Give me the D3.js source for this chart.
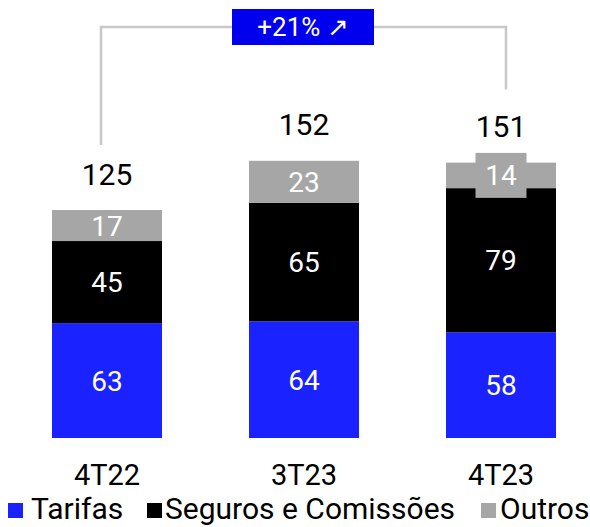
<!DOCTYPE html>
<html>
<head>
<meta charset="utf-8">
<script src="https://cdn.jsdelivr.net/npm/d3@7"></script>
<style>
  body { margin: 0; background: #fff; }
  text { font-family: Roboto, "Noto Sans", sans-serif; }
</style>
</head>
<body>
<svg id="chart" width="590" height="527"></svg>
<script>
const categories = ['4T22', '3T23', '4T23'];
const series = ['Tarifas', 'Seguros e Comissões', 'Outros'];
const tarifas = [63, 64, 58];
const seguros = [45, 65, 79];
const outros = [17, 23, 14];
const totals = [125, 152, 151];
const growthLabel = '+21% \u2197';

const colors = ['#1a22ff', '#000000', '#a6a6a6'];

const svg = d3.select('#chart');

// bars 110px wide, centers at ~107, 304, 501
const xs = d3.scaleBand().domain(categories).range([12.6, 595.4])
  .paddingInner(0.4416).paddingOuter(0.2);
const y = d3.scaleLinear().domain([0, 152]).range([438, 160.8]);

const rows = categories.map((c, i) => ({ cat: c, vals: [tarifas[i], seguros[i], outros[i]], total: totals[i] }));

const stacked = d3.stack().keys([0, 1, 2]).value((d, k) => d.vals[k])(rows);

const g = svg.append('g');

stacked.forEach((layer, k) => {
  g.selectAll(null)
    .data(layer)
    .join('rect')
    .attr('x', d => xs(d.data.cat))
    .attr('width', xs.bandwidth())
    .attr('y', d => y(d[1]))
    .attr('height', d => y(d[0]) - y(d[1]))
    .attr('fill', colors[k]);
});

// segment labels
stacked.forEach((layer, k) => {
  layer.forEach(d => {
    const cx = xs(d.data.cat) + xs.bandwidth() / 2;
    const cy = (y(d[0]) + y(d[1])) / 2;
    const h = y(d[0]) - y(d[1]);
    if (h < 28) {
      // thin segment: label gets its own box
      g.append('rect')
        .attr('x', cx - 25.5)
        .attr('y', cy - 22.5)
        .attr('width', 51)
        .attr('height', 45)
        .attr('fill', colors[k]);
    }
    g.append('text')
      .attr('x', cx)
      .attr('y', cy)
      .attr('dy', '0.36em')
      .attr('text-anchor', 'middle')
      .attr('font-size', 28)
      .attr('fill', '#fff')
      .text(d.data.vals[k]);
  });
});

// totals
g.selectAll('.total')
  .data(rows)
  .join('text')
  .attr('class', 'total')
  .attr('x', d => xs(d.cat) + xs.bandwidth() / 2)
  .attr('y', d => y(d.total) - 25.5)
  .attr('text-anchor', 'middle')
  .attr('font-size', 30)
  .attr('fill', '#000')
  .text(d => d.total);

// category labels
g.selectAll('.cat')
  .data(categories)
  .join('text')
  .attr('class', 'cat')
  .attr('x', d => xs(d) + xs.bandwidth() / 2)
  .attr('y', 485)
  .attr('text-anchor', 'middle')
  .attr('font-size', 29)
  .attr('fill', '#000')
  .text(d => d);

// growth bracket
const x1 = xs(categories[0]) + xs.bandwidth() / 2 - 6;
const x3 = xs(categories[2]) + xs.bandwidth() / 2 + 5;
const topY = 27;
g.append('path')
  .attr('d', `M${x1},${y(totals[0]) - 65}V${topY}H${x3}V${y(totals[2]) - 73}`)
  .attr('fill', 'none')
  .attr('stroke', '#c8c8c8')
  .attr('stroke-width', 2.5);

g.append('rect')
  .attr('x', 232)
  .attr('y', 9)
  .attr('width', 142)
  .attr('height', 36)
  .attr('fill', '#0000ee');

g.append('text')
  .attr('x', 303)
  .attr('y', 27)
  .attr('dy', '0.36em')
  .attr('text-anchor', 'middle')
  .attr('font-size', 26)
  .attr('fill', '#fff')
  .text(growthLabel);

// legend
const legendX = [8, 147, 481];
const legendText = [33, 167, 502];
const legend = g.selectAll('.leg')
  .data(series)
  .join('g')
  .attr('class', 'leg');

legend.append('rect')
  .attr('x', (d, i) => legendX[i])
  .attr('y', 503)
  .attr('width', 15)
  .attr('height', 15)
  .attr('fill', (d, i) => colors[i]);

legend.append('text')
  .attr('x', (d, i) => legendText[i] - 2)
  .attr('y', 519)
  .attr('font-size', 30)
  .attr('fill', '#000')
  .text(d => d);
</script>
</body>
</html>
